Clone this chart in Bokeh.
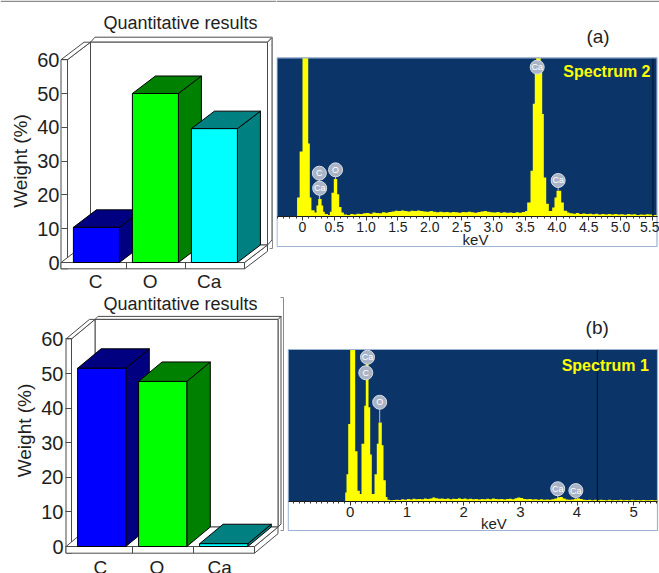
import numpy as np
from bokeh.plotting import figure
from bokeh.layouts import column, row
from bokeh.models import Range1d, LinearAxis, FixedTicker
from bokeh.core.properties import value
from bokeh.embed import file_html
from bokeh.resources import INLINE

FONT = "Liberation Sans"
TEXT = "#1e1e1e"
WALL = "#4a4a4a"

# ---------------- quantitative results (weight %) ----------------
elements = ["C", "O", "Ca"]
weight_a = [10.4, 50.0, 39.6]
weight_b = [51.5, 47.7, 0.8]
weight_ticks = [0, 10, 20, 30, 40, 50, 60]

front_colors = ["#0000ff", "#00ff00", "#00ffff"]
shade_colors = ["#000080", "#008000", "#008080"]

# ---------------- EDS spectra ----------------
# channel start energy (keV) and relative counts (full scale = 100, peaks above run off scale)
energy_a = [-0.40, -0.085, -0.045, 0.00, 0.09, 0.115, 0.14, 0.19, 0.22, 0.247,
            0.30, 0.325, 0.35, 0.40, 0.43, 0.456, 0.492, 0.546, 0.577, 0.613,
            0.65, 0.70, 0.75, 0.80, 0.85, 0.90, 0.95, 1.00, 1.05, 1.10,
            1.15, 1.20, 1.25, 1.30, 1.35, 1.40, 1.45, 1.50, 1.55, 1.60,
            1.65, 1.70, 1.75, 1.80, 1.85, 1.90, 1.95, 2.00, 2.05, 2.10,
            2.15, 2.20, 2.25, 2.30, 2.35, 2.40, 2.45, 2.50, 2.55, 2.60,
            2.65, 2.70, 2.75, 2.80, 2.85, 2.90, 2.95, 3.00, 3.05, 3.10,
            3.15, 3.20, 3.25, 3.30, 3.35, 3.40, 3.45, 3.50, 3.533, 3.585,
            3.621, 3.652, 3.675, 3.745, 3.769, 3.794, 3.832, 3.873, 3.926, 3.962,
            3.994, 4.068, 4.109, 4.162, 4.20, 4.25, 4.30, 4.35, 4.40, 4.45,
            4.50, 4.55, 4.60, 4.65, 4.70, 4.75, 4.80, 4.85, 4.90, 4.95,
            5.00, 5.05, 5.10, 5.15, 5.20, 5.25, 5.30, 5.35, 5.40, 5.45,
            5.50, 5.574]
counts_a = [0.0, 12, 41, 140, 46, 12, 4, 2.5, 7, 11,
            7, 3, 1.5, 1.0, 3, 15, 23.6, 14, 6, 2.5,
            1.2, 1.0, 1.5, 1.2, 1.8, 1.5, 2.0, 2.2, 1.8, 2.5,
            2.2, 2.0, 2.6, 2.4, 2.8, 3.2, 3.6, 3.4, 3.8, 3.5,
            3.2, 3.6, 3.4, 3.8, 3.5, 3.2, 3.0, 3.4, 3.0, 2.7,
            3.0, 2.6, 2.8, 2.5, 2.9, 2.6, 2.4, 2.8, 2.6, 3.0,
            2.7, 2.4, 2.8, 3.1, 3.4, 3.0, 2.7, 2.5, 2.8, 2.4,
            2.6, 2.3, 2.5, 2.2, 2.6, 2.4, 2.8, 3.5, 8.8, 28.8,
            71, 94, 104, 93, 64.6, 24.6, 8, 3.5, 5.7, 12,
            16.2, 8.8, 3.6, 2.5, 2.0, 1.8, 2.2, 1.6, 1.9, 1.5,
            1.8, 1.4, 1.7, 1.3, 1.6, 1.2, 1.5, 1.3, 1.6, 1.2,
            1.4, 1.1, 1.5, 1.2, 1.4, 1.0, 1.3, 1.1, 1.4, 1.2,
            1.0, 0.0]

energy_b = [-1.09, -0.088, -0.065, -0.035, 0.00, 0.088, 0.129, 0.169, 0.199, 0.247,
            0.275, 0.323, 0.353, 0.381, 0.429, 0.469, 0.499, 0.557, 0.587, 0.628,
            0.658, 0.70, 0.75, 0.80, 0.85, 0.90, 0.95, 1.00, 1.05, 1.10,
            1.15, 1.20, 1.25, 1.30, 1.35, 1.40, 1.45, 1.50, 1.55, 1.60,
            1.65, 1.70, 1.75, 1.80, 1.85, 1.90, 1.95, 2.00, 2.05, 2.10,
            2.15, 2.20, 2.25, 2.30, 2.35, 2.40, 2.45, 2.50, 2.55, 2.60,
            2.65, 2.70, 2.75, 2.80, 2.85, 2.90, 2.95, 3.00, 3.05, 3.10,
            3.15, 3.20, 3.25, 3.30, 3.35, 3.40, 3.45, 3.50, 3.55, 3.60,
            3.65, 3.70, 3.75, 3.80, 3.85, 3.90, 3.95, 4.00, 4.05, 4.10,
            4.15, 4.20, 4.25, 4.30, 4.35, 4.40, 4.45, 4.50, 4.55, 4.60,
            4.65, 4.70, 4.75, 4.80, 4.85, 4.90, 4.95, 5.00, 5.05, 5.10,
            5.15, 5.20, 5.25, 5.30, 5.35, 5.42]
counts_b = [0.0, 6, 18, 51, 140, 33, 7, 5, 38, 63,
            99, 62, 31, 5, 18, 38, 52, 37, 14, 3,
            1.2, 0.8, 1.0, 1.2, 1.0, 1.4, 1.2, 1.6, 1.3, 1.8,
            1.5, 1.7, 1.4, 1.9, 1.6, 2.0, 2.6, 2.2, 1.8, 2.0,
            1.6, 1.9, 1.5, 1.8, 1.6, 2.1, 1.7, 1.9, 1.5, 1.8,
            1.4, 1.7, 1.3, 1.6, 1.4, 1.8, 1.5, 2.0, 1.6, 1.4,
            1.7, 1.3, 1.6, 1.8, 1.5, 2.1, 2.7, 2.3, 1.7, 1.4,
            1.6, 1.3, 1.5, 1.2, 1.4, 1.1, 1.3, 1.2, 1.5, 2.0,
            2.8, 3.0, 2.0, 1.3, 1.1, 1.3, 1.8, 2.2, 1.6, 1.1,
            1.0, 1.2, 0.9, 1.1, 0.9, 1.2, 1.0, 0.8, 1.1, 0.9,
            1.0, 0.8, 1.1, 0.9, 1.0, 0.8, 1.1, 0.9, 1.0, 0.8,
            1.0, 0.9, 0.8, 1.0, 0.9, 0.0]

# identified lines: element, energy (keV), height of the tag (relative counts)
line_el_a = ["C", "Ca", "O", "Ca", "Ca"]
line_kev_a = [0.265, 0.27, 0.52, 3.69, 4.02]
line_tag_a = [27.3, 17.8, 29.4, 94.1, 22.7]
line_el_b = ["Ca", "C", "O", "Ca", "Ca"]
line_kev_b = [0.305, 0.275, 0.52, 3.66, 3.98]
line_tag_b = [94.9, 84.7, 65.3, 8.4, 7.2]

cursor_kev_a = 5.51
cursor_kev_b = 4.36

kev_ticks_a = [0, 0.5, 1.0, 1.5, 2.0, 2.5, 3.0, 3.5, 4.0, 4.5, 5.0, 5.5]
kev_labels_a = ["0", "0.5", "1.0", "1.5", "2.0", "2.5", "3.0", "3.5", "4.0", "4.5", "5.0", "5.5"]
kev_ticks_b = [0, 1, 2, 3, 4, 5]
kev_labels_b = ["0", "1", "2", "3", "4", "5"]

FULL_SCALE = 100.0


def new_fig(width, height, x_range, y_range):
    p = figure(width=width, height=height, x_range=Range1d(*x_range), y_range=Range1d(*y_range),
               x_axis_type=None, y_axis_type=None, toolbar_location=None,
               output_backend="svg", min_border=0)
    p.outline_line_color = None
    p.background_fill_color = "white"
    p.border_fill_color = "white"
    return p


def box_faces(x0, x1, y0, y1, dx, dy):
    """right side, top and front faces of a box seen from the front, depth (dx, dy)"""
    side = ([x1, x1 + dx, x1 + dx, x1], [y0, y0 + dy, y1 + dy, y1])
    top = ([x0, x1, x1 + dx, x0 + dx], [y1, y1, y1 + dy, y1 + dy])
    front = ([x0, x1, x1, x0], [y0, y0, y1, y1])
    return [side, top, front]


def quant_chart(weights, width, height, cat0, cat_w, zero_y, unit_h, depth, wall, rim,
                bar_span, label_pos, label_standoff, title_xy, axis_top, frame_line, top_rule):
    p = new_fig(width, height, (-cat0 / cat_w, (width - cat0) / cat_w),
                ((zero_y - height) / unit_h, zero_y / unit_h))
    dx, dy = depth[0] / cat_w, depth[1] / unit_h
    tx, ty = wall[0] / cat_w, wall[1] / unit_h
    rx, ry = rim[0] / cat_w, rim[1] / unit_h
    n = len(weights)
    vmax = weight_ticks[-1]

    # back wall, left wall and floor slabs
    faces = (box_faces(dx, n + dx, dy, vmax + dy, rx, ry)
             + box_faces(-tx, 0, -ty, vmax, dx, dy)
             + box_faces(-tx, n, -ty, 0, dx, dy))
    p.patches([f[0] for f in faces], [f[1] for f in faces],
              fill_color="white", line_color=WALL, line_width=1)
    p.segment(x0=list(range(1, n)), y0=[-ty] * (n - 1), x1=list(range(1, n)), y1=[0] * (n - 1),
              line_color=WALL, line_width=1)

    # 3D bars, drawn left to right
    bx, by, bc = [], [], []
    for i, (v, fc, sc) in enumerate(zip(weights, front_colors, shade_colors)):
        for face, col in zip(box_faces(i + bar_span[0], i + bar_span[1], 0, v, dx, dy), [sc, sc, fc]):
            bx.append(face[0])
            by.append(face[1])
            bc.append(col)
    p.patches(bx, by, fill_color=bc, line_color="black", line_width=1)

    # value axis on the left wall
    yax = LinearAxis(fixed_location=0, bounds=(0, axis_top),
                     ticker=FixedTicker(ticks=weight_ticks), axis_label="Weight (%)")
    yax.axis_line_color = None
    yax.major_tick_out = int(round(wall[0]))
    yax.major_tick_in = 0
    yax.minor_tick_out = 0
    yax.minor_tick_in = 0
    yax.major_tick_line_color = WALL
    yax.major_label_standoff = 2
    yax.major_label_text_font = FONT
    yax.major_label_text_font_size = "20px"
    yax.major_label_text_color = TEXT
    yax.axis_label_text_font = FONT
    yax.axis_label_text_font_size = "19px"
    yax.axis_label_text_font_style = "normal"
    yax.axis_label_text_color = TEXT
    yax.axis_label_standoff = 3
    p.add_layout(yax, "left")

    # element axis under the floor
    xax = LinearAxis(fixed_location=-ty, ticker=FixedTicker(ticks=label_pos),
                     major_label_overrides={float(x): el for x, el in zip(label_pos, elements)})
    xax.axis_line_color = None
    xax.major_tick_out = 0
    xax.major_tick_in = 0
    xax.minor_tick_out = 0
    xax.minor_tick_in = 0
    xax.major_tick_line_color = None
    xax.minor_tick_line_color = None
    xax.major_label_standoff = label_standoff
    xax.major_label_text_font = FONT
    xax.major_label_text_font_size = "19px"
    xax.major_label_text_color = TEXT
    p.add_layout(xax, "below")

    # title
    p.text(x=[(title_xy[0] - cat0) / cat_w], y=[(zero_y - title_xy[1]) / unit_h],
           text=["Quantitative results"], text_font=value(FONT), text_font_size="18px",
           text_color=TEXT, text_align="center", text_baseline="middle")

    # right edge of the panel frame
    fx = (frame_line[0] - cat0) / cat_w
    fy0 = (zero_y - frame_line[1]) / unit_h
    fy1 = (zero_y - frame_line[2]) / unit_h
    hook = 3 / cat_w
    p.line([fx - hook, fx, fx, fx - hook], [fy0, fy0, fy1, fy1], line_color="#8a8a8a", line_width=1)

    if top_rule:
        yr = (zero_y - 0.8) / unit_h
        p.line([-cat0 / cat_w, (width - cat0) / cat_w], [yr, yr], line_color="#8c8c8c", line_width=1.6)
    return p


def spectrum_chart(energy, counts, width, height, zero_x, kev_w, base_y, top_y, box, tags,
                   cursor, ticks, labels, tick_font, name, name_xy, panel, panel_xy, kev_xy, top_rule):
    unit = (base_y - top_y) / FULL_SCALE
    X = lambda px: (px - zero_x) / kev_w
    Y = lambda py: (base_y - py) / unit
    p = new_fig(width, height, (X(0), X(width)), (Y(height), Y(0)))
    x0, x1, yb = X(box[0]), X(box[1]), Y(box[2])

    p.quad(left=[x0], right=[x1], bottom=[0], top=[FULL_SCALE], fill_color="#0b3468", line_color=None)

    shown = np.minimum(np.asarray(counts, float), FULL_SCALE)
    p.varea_step(x=energy, y1=0, y2=shown, step_mode="after", fill_color="#ffff00")

    p.segment(x0=[cursor], y0=[0], x1=[cursor], y1=[FULL_SCALE], line_color="#07172c", line_width=1.2)
    p.quad(left=[x0], right=[x1], bottom=[yb], top=[FULL_SCALE], fill_color=None,
           line_color="#9db3d3", line_width=1.2)

    # element tags with stems down to the spectrum
    el, kev, tag = tags
    idx = np.searchsorted(energy, kev, side="right") - 1
    peak = np.minimum(np.asarray(counts, float)[idx], FULL_SCALE)
    stem_bottom = np.minimum(peak, tag)
    p.segment(x0=kev, y0=tag, x1=kev, y1=stem_bottom, line_color="#b8c1d0", line_width=1)
    p.scatter(x=kev, y=tag, size=14, marker="circle", fill_color="#a9b4c7",
              line_color="#d9dee8", line_width=1)
    p.text(x=kev, y=tag, text=el, text_font=value(FONT), text_font_size="9px",
           text_color="white", text_align="center", text_baseline="middle")

    p.text(x=[X(name_xy[0])], y=[Y(name_xy[1])], text=[name], text_font=value(FONT),
           text_font_size="16px", text_font_style="bold", text_color="#ffff00",
           text_align="right", text_baseline="middle")
    p.text(x=[X(panel_xy[0])], y=[Y(panel_xy[1])], text=[panel], text_font=value(FONT),
           text_font_size="19px", text_color=TEXT, text_align="center", text_baseline="middle")
    p.text(x=[X(kev_xy[0])], y=[Y(kev_xy[1])], text=["keV"], text_font=value(FONT),
           text_font_size="15px", text_color=TEXT, text_align="center", text_baseline="middle")

    minor = [round(t, 2) for t in np.arange(-1.0, 5.7, 0.1) if x0 < t < x1]
    xax = LinearAxis(fixed_location=0, bounds=(x0, x1),
                     ticker=FixedTicker(ticks=ticks, minor_ticks=minor),
                     major_label_overrides={float(t): s for t, s in zip(ticks, labels)})
    xax.axis_line_color = "#1a1a1a"
    xax.axis_line_width = 1
    xax.major_tick_out = 4
    xax.major_tick_in = 0
    xax.minor_tick_out = 2
    xax.minor_tick_in = 0
    xax.major_tick_line_color = "#333333"
    xax.minor_tick_line_color = "#333333"
    xax.major_label_standoff = 1
    xax.major_label_text_font = FONT
    xax.major_label_text_font_size = tick_font
    xax.major_label_text_color = TEXT
    p.add_layout(xax, "below")

    if top_rule:
        yr = Y(0.8)
        p.line([X(0), X(width)], [yr, yr], line_color="#8c8c8c", line_width=1.6)
    return p


# top row is 292 px tall, bottom row 281 px
quant_a = quant_chart(weight_a, 276, 292, cat0=67, cat_w=59, zero_y=262, unit_h=3.38,
                      depth=(23, 17.5), wall=(6.5, 6.3), rim=(4.5, 5), bar_span=(0.10, 0.88),
                      label_pos=[0.475, 1.40, 2.40], label_standoff=2, title_xy=(180, 22), axis_top=60,
                      frame_line=(272, 37, 248), top_rule=True)
spec_a = spectrum_chart(energy_a, counts_a, 383, 292, zero_x=26, kev_w=63.6, base_y=216, top_y=57.3,
                        box=(0.5, 380.5, 246), tags=(line_el_a, line_kev_a, line_tag_a),
                        cursor=cursor_kev_a, ticks=kev_ticks_a, labels=kev_labels_a, tick_font="14px",
                        name="Spectrum 2", name_xy=(374, 70.7), panel="(a)", panel_xy=(321.5, 35.5),
                        kev_xy=(199, 239), top_rule=True)

quant_b = quant_chart(weight_b, 287, 281, cat0=71, cat_w=61, zero_y=254, unit_h=3.46,
                      depth=(23.5, 19.5), wall=(5.5, 6.7), rim=(3, 3), bar_span=(0.10, 0.89),
                      label_pos=[0.475, 1.40, 2.43], label_standoff=4, title_xy=(180, 11), axis_top=67,
                      frame_line=(283, 5, 238), top_rule=False)
spec_b = spectrum_chart(energy_b, counts_b, 372, 281, zero_x=62.7, kev_w=56.7, base_y=209, top_y=57,
                        box=(0.7, 370, 238), tags=(line_el_b, line_kev_b, line_tag_b),
                        cursor=cursor_kev_b, ticks=kev_ticks_b, labels=kev_labels_b, tick_font="15px",
                        name="Spectrum 1", name_xy=(361.3, 73), panel="(b)", panel_xy=(309.7, 34.7),
                        kev_xy=(206.3, 230.5), top_rule=False)

layout = column(row(quant_a, spec_a), row(quant_b, spec_b))
open("out.html", "w").write(file_html(layout, INLINE))
